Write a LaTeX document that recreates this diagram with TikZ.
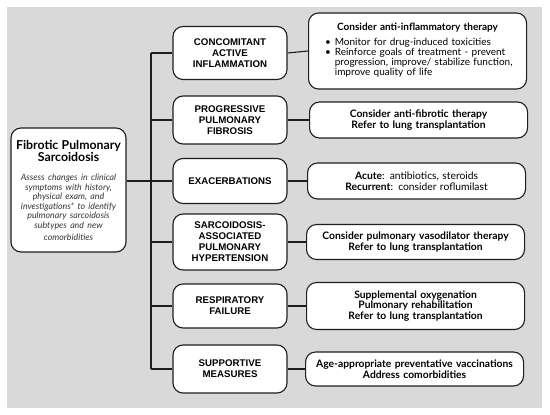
\documentclass[tikz,border=0pt]{standalone}
\usepackage{fontspec}
\setmainfont{Lato}
\newfontfamily\capsfont{Liberation Sans}
\usetikzlibrary{positioning}
\definecolor{panel}{RGB}{217,217,217}
\definecolor{ink}{RGB}{30,30,30}
\begin{document}
\begin{tikzpicture}[x=1pt, y=-1pt,
    box/.style={draw=ink, line width=1.1pt, fill=white, rounded corners=10pt, inner sep=2pt},
    midbox/.style={box, minimum width=114pt, text width=108pt, align=center,
      font=\capsfont\bfseries\fontsize{9.7}{11}\selectfont},
    actbox/.style={box, anchor=west, minimum width=218pt, text width=212pt, align=center,
      font=\bfseries\fontsize{10.3}{11}\selectfont},
    link/.style={draw=ink, line width=1.1pt}]
  \useasboundingbox (0,0) rectangle (550,415);
  \fill[panel] (7,7) rectangle (542,408);

  % source box
  \node[box, minimum width=115pt, minimum height=124pt, text width=111pt, align=center] (fps) at (68.5,190)
    {{\bfseries\fontsize{12.3}{12.5}\selectfont Fibrotic Pulmonary\\ Sarcoidosis}\\[10pt]
     {\itshape\color{ink!90}\fontsize{8.8}{9.5}\selectfont Assess changes in clinical\\ symptoms with history,\\ physical exam, and\\ investigations* to identify\\ pulmonary sarcoidosis\\ subtypes and new\\ comorbidities}};

  % subtypes
  \node[midbox, minimum height=53pt] (m1) at (230,53) {CONCOMITANT\\ ACTIVE\\ INFLAMMATION};
  \node[midbox, minimum height=48pt] (m2) at (230,120) {PROGRESSIVE\\ PULMONARY\\ FIBROSIS};
  \node[midbox, minimum height=45pt] (m3) at (230,181) {EXACERBATIONS};
  \node[midbox, minimum height=56pt] (m4) at (230,242) {SARCOIDOSIS-\\ ASSOCIATED\\ PULMONARY\\ HYPERTENSION};
  \node[midbox, minimum height=44pt] (m5) at (230,306) {RESPIRATORY\\ FAILURE};
  \node[midbox, minimum height=48pt] (m6) at (230,369) {SUPPORTIVE\\ MEASURES};

  % actions
  \node[actbox, text width=211pt, minimum height=76pt, align=left, font=\fontsize{10}{10.4}\selectfont] (r1) at (308,51)
    {{\centering\bfseries Consider anti-inflammatory therapy\par}\vspace{5pt}
     {\renewcommand{\arraystretch}{0.86}%
     \begin{tabular}{@{\hspace{13pt}}l@{\hspace{4pt}}l@{}}
       \textbullet & Monitor for drug-induced toxicities\\
       \textbullet & Reinforce goals of treatment - prevent\\
                   & progression, improve/ stabilize function,\\
                   & improve quality of life
     \end{tabular}}};
  \node[actbox, minimum height=36pt] (r2) at (309,120) {Consider anti-fibrotic therapy\\ Refer to lung transplantation};
  \node[actbox, minimum height=36pt, font=\fontsize{10.3}{11}\selectfont] (r3) at (307,181)
    {\textbf{Acute}: antibiotics, steroids\\ \textbf{Recurrent}: consider roflumilast};
  \node[actbox, minimum height=35pt] (r4) at (306,242) {Consider pulmonary vasodilator therapy\\ Refer to lung transplantation};
  \node[actbox, minimum height=47pt, font=\bfseries\fontsize{10.3}{10.2}\selectfont] (r5) at (306,306) {Supplemental oxygenation\\ Pulmonary rehabilitation\\ Refer to lung transplantation};
  \node[actbox, minimum height=34pt] (r6) at (305,369) {Age-appropriate preventative vaccinations\\ Address comorbidities};

  % trunk and branches
  \coordinate (top) at (151,53);
  \coordinate (bot) at (151,369);
  \draw[link] (top) -- (bot);
  \draw[link] (fps.east |- m3) -- (m3.west -| top);
  \foreach \i in {1,...,6} {
    \draw[link] (m\i.west -| top) -- (m\i.west);
    \draw[link] (m\i.east) -- (r\i.west);
  }
\end{tikzpicture}
\end{document}
